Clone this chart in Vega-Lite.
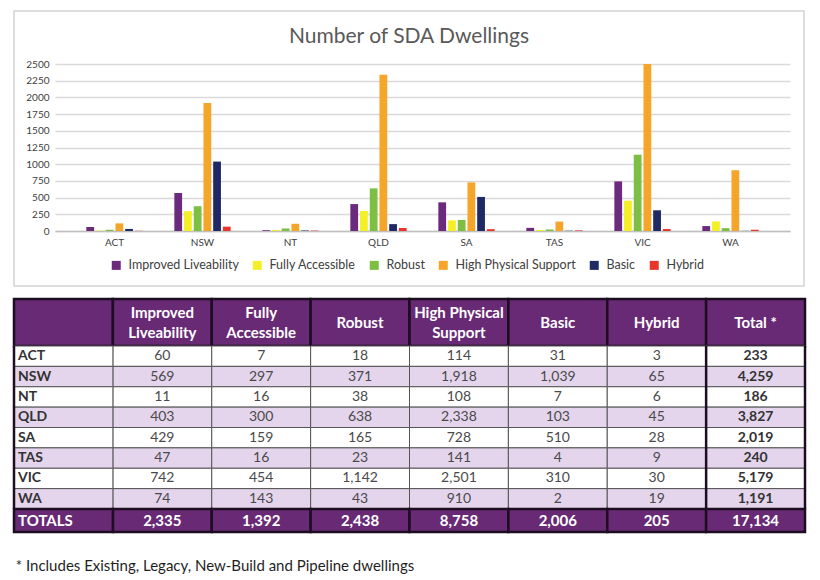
{
  "$schema": "https://vega.github.io/schema/vega-lite/v6.json",
  "background": "white",
  "padding": {"left": 12, "top": 10, "right": 5, "bottom": 5},
  "config": {
    "font": "Lato",
    "view": {"stroke": null},
    "axis": {"labelFont": "Lato"},
    "legend": {"labelFont": "Lato"},
    "title": {"font": "Lato"}
  },
  "datasets": {
    "cells": [
      {"state": "ACT", "type": "Improved Liveability", "value": 60},
      {"state": "ACT", "type": "Fully Accessible", "value": 7},
      {"state": "ACT", "type": "Robust", "value": 18},
      {"state": "ACT", "type": "High Physical Support", "value": 114},
      {"state": "ACT", "type": "Basic", "value": 31},
      {"state": "ACT", "type": "Hybrid", "value": 3},
      {"state": "ACT", "type": "Total *", "value": 233},
      {"state": "NSW", "type": "Improved Liveability", "value": 569},
      {"state": "NSW", "type": "Fully Accessible", "value": 297},
      {"state": "NSW", "type": "Robust", "value": 371},
      {"state": "NSW", "type": "High Physical Support", "value": 1918},
      {"state": "NSW", "type": "Basic", "value": 1039},
      {"state": "NSW", "type": "Hybrid", "value": 65},
      {"state": "NSW", "type": "Total *", "value": 4259},
      {"state": "NT", "type": "Improved Liveability", "value": 11},
      {"state": "NT", "type": "Fully Accessible", "value": 16},
      {"state": "NT", "type": "Robust", "value": 38},
      {"state": "NT", "type": "High Physical Support", "value": 108},
      {"state": "NT", "type": "Basic", "value": 7},
      {"state": "NT", "type": "Hybrid", "value": 6},
      {"state": "NT", "type": "Total *", "value": 186},
      {"state": "QLD", "type": "Improved Liveability", "value": 403},
      {"state": "QLD", "type": "Fully Accessible", "value": 300},
      {"state": "QLD", "type": "Robust", "value": 638},
      {"state": "QLD", "type": "High Physical Support", "value": 2338},
      {"state": "QLD", "type": "Basic", "value": 103},
      {"state": "QLD", "type": "Hybrid", "value": 45},
      {"state": "QLD", "type": "Total *", "value": 3827},
      {"state": "SA", "type": "Improved Liveability", "value": 429},
      {"state": "SA", "type": "Fully Accessible", "value": 159},
      {"state": "SA", "type": "Robust", "value": 165},
      {"state": "SA", "type": "High Physical Support", "value": 728},
      {"state": "SA", "type": "Basic", "value": 510},
      {"state": "SA", "type": "Hybrid", "value": 28},
      {"state": "SA", "type": "Total *", "value": 2019},
      {"state": "TAS", "type": "Improved Liveability", "value": 47},
      {"state": "TAS", "type": "Fully Accessible", "value": 16},
      {"state": "TAS", "type": "Robust", "value": 23},
      {"state": "TAS", "type": "High Physical Support", "value": 141},
      {"state": "TAS", "type": "Basic", "value": 4},
      {"state": "TAS", "type": "Hybrid", "value": 9},
      {"state": "TAS", "type": "Total *", "value": 240},
      {"state": "VIC", "type": "Improved Liveability", "value": 742},
      {"state": "VIC", "type": "Fully Accessible", "value": 454},
      {"state": "VIC", "type": "Robust", "value": 1142},
      {"state": "VIC", "type": "High Physical Support", "value": 2501},
      {"state": "VIC", "type": "Basic", "value": 310},
      {"state": "VIC", "type": "Hybrid", "value": 30},
      {"state": "VIC", "type": "Total *", "value": 5179},
      {"state": "WA", "type": "Improved Liveability", "value": 74},
      {"state": "WA", "type": "Fully Accessible", "value": 143},
      {"state": "WA", "type": "Robust", "value": 43},
      {"state": "WA", "type": "High Physical Support", "value": 910},
      {"state": "WA", "type": "Basic", "value": 2},
      {"state": "WA", "type": "Hybrid", "value": 19},
      {"state": "WA", "type": "Total *", "value": 1191}
    ],
    "header": [
      {"col": "State", "label": ""},
      {"col": "Improved Liveability", "label": "Improved\nLiveability"},
      {"col": "Fully Accessible", "label": "Fully\nAccessible"},
      {"col": "Robust", "label": "Robust"},
      {"col": "High Physical Support", "label": "High Physical\nSupport"},
      {"col": "Basic", "label": "Basic"},
      {"col": "Hybrid", "label": "Hybrid"},
      {"col": "Total *", "label": "Total *"}
    ],
    "totals": [
      {"type": "Improved Liveability", "value": 2335},
      {"type": "Fully Accessible", "value": 1392},
      {"type": "Robust", "value": 2438},
      {"type": "High Physical Support", "value": 8758},
      {"type": "Basic", "value": 2006},
      {"type": "Hybrid", "value": 205},
      {"type": "Total *", "value": 17134}
    ]
  },
  "columns": 1,
  "spacing": 10,
  "resolve": {"scale": {"x": "independent", "y": "independent", "color": "independent", "fill": "independent", "xOffset": "independent"}},
  "concat": [
    {
      "data": {"name": "cells"},
      "transform": [{"filter": "datum.type !== 'Total *'"}],
      "width": 790,
      "height": 275,
      "view": {"stroke": "#d4d4d4", "strokeWidth": 1.5},
      "title": {"text": "Number of SDA Dwellings", "fontSize": 21, "fontWeight": "normal", "color": "#595959", "offset": -36, "anchor": "middle", "dx": 0},
      "mark": {"type": "bar"},
      "encoding": {
        "x": {
          "field": "state", "type": "nominal",
          "scale": {"domain": ["ACT", "NSW", "NT", "QLD", "SA", "TAS", "VIC", "WA"], "range": [41, 776], "paddingInner": 0.36, "paddingOuter": 0.356},
          "axis": {"title": null, "labelAngle": 0, "offset": -55, "domainColor": "#bfbfbf", "domainWidth": 1.5, "ticks": false, "labelFontSize": 10, "labelColor": "#404040", "labelPadding": 6}
        },
        "xOffset": {
          "field": "type", "type": "nominal",
          "scale": {"domain": ["Improved Liveability", "Fully Accessible", "Robust", "High Physical Support", "Basic", "Hybrid"], "paddingInner": 0.2}
        },
        "y": {
          "field": "value", "type": "quantitative",
          "scale": {"domain": [0, 2500], "nice": false, "range": [220, 53]},
          "axis": {"title": null, "offset": -41, "values": [0, 250, 500, 750, 1000, 1250, 1500, 1750, 2000, 2250, 2500], "format": "d", "grid": true, "gridColor": "#d9d9d9", "gridWidth": 1.5, "domain": false, "ticks": false, "labelFontSize": 10, "labelColor": "#404040", "labelPadding": 6}
        },
        "color": {
          "field": "type", "type": "nominal",
          "scale": {"domain": ["Improved Liveability", "Fully Accessible", "Robust", "High Physical Support", "Basic", "Hybrid"], "range": ["#6b2a7b", "#f4f028", "#7dbf45", "#f5a52a", "#1f2a64", "#e8362d"]},
          "legend": {"title": null, "orient": "none", "direction": "horizontal", "legendX": 96, "legendY": 248, "symbolType": "square", "symbolSize": 81, "symbolStrokeWidth": 0, "labelFontSize": 12.5, "labelColor": "#404040", "columnPadding": 12, "labelOffset": 6}
        }
      }
    },
    {
      "vconcat": [
        {
          "data": {"name": "header"},
          "width": 791,
          "height": 47,
          "layer": [
            {
              "mark": {"type": "rect", "fill": "#692a75", "stroke": "#1c0d20", "strokeWidth": 2.5},
              "encoding": {
                "x": {"field": "col", "type": "nominal", "scale": {"domain": ["State", "Improved Liveability", "Fully Accessible", "Robust", "High Physical Support", "Basic", "Hybrid", "Total *"], "paddingInner": 0, "paddingOuter": 0}, "axis": null}
              }
            },
            {
              "transform": [{"filter": "indexof(datum.label, '\\n') >= 0"}],
              "mark": {"type": "text", "color": "white", "fontWeight": "bold", "fontSize": 15, "lineBreak": "\n", "lineHeight": 20, "baseline": "middle", "dy": -10},
              "encoding": {
                "x": {"field": "col", "type": "nominal", "axis": null},
                "text": {"field": "label"}
              }
            },
            {
              "transform": [{"filter": "indexof(datum.label, '\\n') < 0"}],
              "mark": {"type": "text", "color": "white", "fontWeight": "bold", "fontSize": 15, "baseline": "middle"},
              "encoding": {
                "x": {"field": "col", "type": "nominal", "axis": null},
                "text": {"field": "label"}
              }
            }
          ]
        },
        {
          "data": {"name": "cells"},
          "width": 791,
          "height": 163,
          "layer": [
            {
              "mark": {"type": "rect", "stroke": "#555555", "strokeWidth": 1},
              "encoding": {
                "x": {"field": "type", "type": "nominal", "scale": {"domain": ["State", "Improved Liveability", "Fully Accessible", "Robust", "High Physical Support", "Basic", "Hybrid", "Total *"], "paddingInner": 0, "paddingOuter": 0}, "axis": null},
                "y": {"field": "state", "type": "nominal", "scale": {"domain": ["ACT", "NSW", "NT", "QLD", "SA", "TAS", "VIC", "WA"], "paddingInner": 0, "paddingOuter": 0}, "axis": null},
                "fill": {"field": "state", "type": "nominal", "scale": {"domain": ["ACT", "NSW", "NT", "QLD", "SA", "TAS", "VIC", "WA"], "range": ["#ffffff", "#e4d5ed", "#ffffff", "#e4d5ed", "#ffffff", "#e4d5ed", "#ffffff", "#e4d5ed"]}, "legend": null}
              }
            },
            {
              "transform": [{"filter": "datum.type === 'Robust'"}],
              "mark": {"type": "rect", "stroke": "#555555", "strokeWidth": 1},
              "encoding": {
                "x": {"datum": "State", "type": "nominal"},
                "y": {"field": "state", "type": "nominal"},
                "fill": {"field": "state", "type": "nominal", "legend": null}
              }
            },
            {
              "transform": [{"filter": "datum.type === 'Total *' && datum.state === 'ACT'"}],
              "mark": {"type": "rule", "color": "#1c0d20", "strokeWidth": 2.5},
              "encoding": {
                "x": {"field": "type", "type": "nominal", "bandPosition": 0}
              }
            },
            {
              "transform": [{"filter": "datum.type === 'Total *' && datum.state === 'ACT'"}],
              "mark": {"type": "rule", "color": "#1c0d20", "strokeWidth": 2.5},
              "encoding": {
                "x": {"field": "type", "type": "nominal", "bandPosition": 1}
              }
            },
            {
              "transform": [{"filter": "datum.type === 'Total *' && datum.state === 'ACT'"}],
              "mark": {"type": "rule", "color": "#1c0d20", "strokeWidth": 2.5},
              "encoding": {
                "x": {"datum": "State", "type": "nominal", "bandPosition": 0}
              }
            },
            {
              "transform": [{"filter": "datum.type === 'Robust'"}],
              "mark": {"type": "text", "align": "left", "dx": 4, "fontWeight": "bold", "fontSize": 14, "color": "#333333", "baseline": "middle"},
              "encoding": {
                "x": {"datum": "State", "type": "nominal", "bandPosition": 0},
                "y": {"field": "state", "type": "nominal"},
                "text": {"field": "state"}
              }
            },
            {
              "transform": [{"filter": "datum.type !== 'Total *'"}],
              "mark": {"type": "text", "fontSize": 14, "color": "#4a4a4a", "baseline": "middle"},
              "encoding": {
                "x": {"field": "type", "type": "nominal"},
                "y": {"field": "state", "type": "nominal"},
                "text": {"field": "value", "type": "quantitative", "format": ",d"}
              }
            },
            {
              "transform": [{"filter": "datum.type === 'Total *'"}],
              "mark": {"type": "text", "fontSize": 14, "fontWeight": "bold", "color": "#333333", "baseline": "middle"},
              "encoding": {
                "x": {"field": "type", "type": "nominal"},
                "y": {"field": "state", "type": "nominal"},
                "text": {"field": "value", "type": "quantitative", "format": ",d"}
              }
            }
          ]
        },
        {
          "width": 791,
          "height": 23,
          "title": {"text": "* Includes Existing, Legacy, New-Build and Pipeline dwellings", "orient": "bottom", "anchor": "start", "frame": "bounds", "fontSize": 15, "fontWeight": "normal", "color": "#1f1f1f", "offset": 26, "dx": 3},
          "layer": [
            {
              "data": {"name": "totals"},
              "mark": {"type": "rect", "fill": "#692a75", "stroke": "#1c0d20", "strokeWidth": 2.5},
              "encoding": {
                "x": {"field": "type", "type": "nominal", "scale": {"domain": ["State", "Improved Liveability", "Fully Accessible", "Robust", "High Physical Support", "Basic", "Hybrid", "Total *"], "paddingInner": 0, "paddingOuter": 0}, "axis": null}
              }
            },
            {
              "data": {"values": [{"label": "TOTALS"}]},
              "mark": {"type": "rect", "fill": "#692a75", "stroke": "#1c0d20", "strokeWidth": 2.5},
              "encoding": {
                "x": {"datum": "State", "type": "nominal"}
              }
            },
            {
              "data": {"values": [{"label": "TOTALS"}]},
              "mark": {"type": "text", "align": "left", "dx": 4, "fontWeight": "bold", "fontSize": 15, "color": "white", "baseline": "middle"},
              "encoding": {
                "x": {"datum": "State", "type": "nominal", "bandPosition": 0},
                "text": {"field": "label"}
              }
            },
            {
              "data": {"name": "totals"},
              "mark": {"type": "text", "fontWeight": "bold", "fontSize": 15, "color": "white", "baseline": "middle"},
              "encoding": {
                "x": {"field": "type", "type": "nominal"},
                "text": {"field": "value", "type": "quantitative", "format": ",d"}
              }
            }
          ]
        }
      ],
      "spacing": 0,
      "bounds": "flush",
      "resolve": {"scale": {"y": "independent", "fill": "independent"}}
    }
  ]
}
